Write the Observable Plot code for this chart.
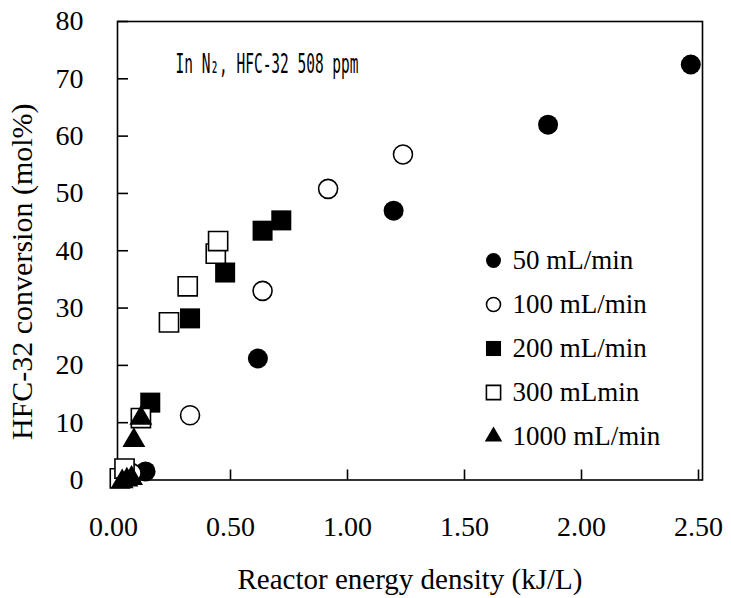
<!DOCTYPE html>
<html><head><meta charset="utf-8">
<script src="https://cdn.jsdelivr.net/npm/d3@7"></script>
<script src="https://cdn.jsdelivr.net/npm/@observablehq/plot@0.6"></script>
<style>body{margin:0;background:#fff;} #chart svg{display:block;}</style>
</head><body><div id="chart"></div>
<script>
// ---- data ----
const seriesNames = ["50 mL/min", "100 mL/min", "200 mL/min", "300 mLmin", "1000 mL/min"];
const energy50   = [0.12, 0.60, 1.18, 1.84, 2.45];
const conv50     = [1.5, 21.2, 47.0, 62.0, 72.5];
const energy100  = [0.06, 0.31, 0.62, 0.90, 1.22];
const conv100    = [1.2, 11.3, 33.0, 50.8, 56.8];
const energy200  = [0.14, 0.31, 0.46, 0.62, 0.70];
const conv200    = [13.5, 28.2, 36.2, 43.5, 45.3];
const energy300  = [0.01, 0.03, 0.10, 0.22, 0.30, 0.42, 0.43];
const conv300    = [0.3, 2.0, 10.8, 27.5, 33.8, 39.5, 41.7];
const energy1000 = [0.02, 0.04, 0.06, 0.07, 0.10];
const conv1000   = [-0.3, 0.0, 0.3, 6.9, 10.8];
const xTicks = [0, 0.5, 1.0, 1.5, 2.0, 2.5];
const yTicks = [0, 10, 20, 30, 40, 50, 60, 70, 80];
const annotation = "In N\u2082, HFC-32 508 ppm";
const xLabel = "Reactor energy density (kJ/L)";
const yLabel = "HFC-32 conversion (mol%)";

const energies = [energy50, energy100, energy200, energy300, energy1000];
const convs = [conv50, conv100, conv200, conv300, conv1000];
const tables = seriesNames.map((s, i) => energies[i].map((e, j) => ({series: s, energy: e, conv: convs[i][j]})));

// marker styles
const styles = [
  {symbol: "circle", fill: "black", stroke: "none", r: 10, lr: 7.5},
  {symbol: "circle", fill: "white", stroke: "black", r: 9.5, lr: 7},
  {symbol: "square", fill: "black", stroke: "none", r: 11.3, lr: 8.5},
  {symbol: "square", fill: "white", stroke: "black", r: 10.8, lr: 8},
  {symbol: "triangle", fill: "black", stroke: "none", r: 8.5, lr: 6.5}
];

const serif = "'Liberation Serif', 'Times New Roman', serif";
const mLeft = 117, mTop = 21;

const marks = [
  Plot.frame({stroke: "black", strokeWidth: 1.6}),
  Plot.axisX({ticks: xTicks, tickFormat: d3.format(".2f"), tickSize: -10, tickPadding: 46, strokeWidth: 1.6,
    fontSize: 28, fontFamily: serif, dx: -4, label: null}),
  Plot.axisY({ticks: yTicks, tickSize: -11, tickPadding: 45, strokeWidth: 1.6,
    fontSize: 28, fontFamily: serif, label: null}),
];
tables.forEach((t, i) => {
  const s = styles[i];
  marks.push(Plot.dot(t, {x: "energy", y: "conv", symbol: () => s.symbol, r: s.r, fill: s.fill,
    stroke: s.stroke, strokeWidth: 1.6}));
});
seriesNames.forEach((name, i) => {
  const s = styles[i];
  marks.push(Plot.dot([name], {frameAnchor: "top-left", dx: 493 - mLeft, dy: 260 - mTop + i * 44,
    symbol: () => s.symbol, r: s.lr, fill: s.fill, stroke: s.stroke, strokeWidth: 1.6}));
  marks.push(Plot.text([name], {text: d => d, frameAnchor: "top-left", dx: 512 - mLeft, dy: 260 - mTop + i * 44,
    textAnchor: "start", lineAnchor: "middle", fontSize: 27, fontFamily: serif, fill: "black"}));
});
marks.push(Plot.text([annotation], {text: d => d, frameAnchor: "top-left", dx: 175 - mLeft, dy: 64 - mTop,
  textAnchor: "start", lineAnchor: "middle", fontSize: 27, fontFamily: "'DejaVu Sans Mono', monospace",
  fill: "black", className: "annot"}));
marks.push(Plot.text([xLabel], {text: d => d, frameAnchor: "bottom", dy: 100, textAnchor: "middle", lineAnchor: "middle",
  fontSize: 29, fontFamily: serif, fill: "black"}));
marks.push(Plot.text([yLabel], {text: d => d, frameAnchor: "left", dx: -95, dy: 21, rotate: -90,
  textAnchor: "middle", lineAnchor: "middle", fontSize: 30, fontFamily: serif, fill: "black"}));

const chart = Plot.plot({
  width: 731, height: 598,
  marginLeft: 117, marginRight: 29, marginTop: 21, marginBottom: 118.5,
  style: {fontFamily: serif, fontSize: "28px", color: "black", background: "white"},
  x: {domain: [0, 2.5]},
  y: {domain: [0, 80]},
  symbol: {type: "identity"},
  marks
});
document.getElementById("chart").appendChild(chart);
chart.querySelectorAll(".annot text, text.annot").forEach(t => {
  t.setAttribute("textLength", 183);
  t.setAttribute("lengthAdjust", "spacingAndGlyphs");
});
</script>
</body></html>
